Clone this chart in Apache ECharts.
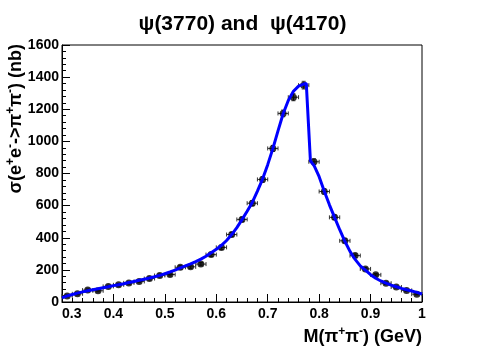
<!DOCTYPE html>
<html>
<head>
<meta charset="utf-8">
<script src="https://cdn.jsdelivr.net/npm/echarts@6/dist/echarts.min.js"></script>
<style>
  html, body { margin: 0; padding: 0; background: #fff; }
  #chart { width: 485px; height: 350px; }
</style>
</head>
<body>
<div id="chart"></div>
<script>
// measured points, M(pi+pi-) in GeV
var pointX = [0.31, 0.33, 0.35, 0.37, 0.39, 0.41, 0.43, 0.45, 0.47, 0.49, 0.51, 0.53,
  0.55, 0.57, 0.59, 0.61, 0.63, 0.65, 0.67, 0.69, 0.71, 0.73, 0.75, 0.77, 0.79,
  0.81, 0.83, 0.85, 0.87, 0.89, 0.91, 0.93, 0.95, 0.97, 0.99];
var pointY = [38, 51, 74, 70, 97, 107, 119, 128, 146, 165, 171, 216,
  219, 236, 295, 340, 420, 514, 615, 763, 956, 1174, 1275, 1350, 873,
  688, 527, 381, 289, 206, 169, 117, 93, 72, 49];
var pointErr = [6, 6, 7, 7, 7, 8, 8, 8, 9, 9, 9, 10,
  10, 10, 11, 12, 13, 14, 16, 17, 19, 21, 22, 24, 18,
  16, 14, 12, 10, 9, 8, 7, 6, 6, 5];
var binHalf = 0.01;

// fit curve
var curveX = [0.30, 0.31, 0.32, 0.33, 0.34, 0.35, 0.36, 0.37, 0.38, 0.39, 0.40,
  0.41, 0.42, 0.43, 0.44, 0.45, 0.46, 0.47, 0.48, 0.49, 0.50,
  0.51, 0.52, 0.53, 0.54, 0.55, 0.56, 0.57, 0.58, 0.59, 0.60,
  0.61, 0.62, 0.63, 0.64, 0.65, 0.66, 0.67, 0.68, 0.69, 0.70,
  0.71, 0.72, 0.73, 0.74, 0.75, 0.76, 0.77, 0.775, 0.777, 0.778, 0.783, 0.786, 0.79,
  0.80, 0.81, 0.82, 0.83, 0.84, 0.85, 0.86, 0.87, 0.88, 0.89, 0.90,
  0.91, 0.92, 0.93, 0.94, 0.95, 0.96, 0.97, 0.98, 0.99, 1.00];
var curveY = [25, 38, 47, 55, 63, 70, 76, 82, 89, 95, 102,
  108, 114, 121, 128, 135, 142, 149, 157, 166, 176,
  187, 199, 212, 225, 238, 252, 267, 285, 306, 328,
  353, 383, 420, 463, 513, 565, 620, 690, 765, 855,
  955, 1065, 1172, 1255, 1312, 1344, 1357, 1361, 1362, 1350, 880, 866, 850,
  780, 690, 605, 527, 450, 378, 315, 265, 225, 198, 170,
  148, 131, 117, 105, 95, 85, 76, 68, 60, 50];

var chart = echarts.init(document.getElementById('chart'));

var curveData = curveX.map(function (x, i) { return [x, curveY[i]]; });
var pointData = pointX.map(function (x, i) { return [x, pointY[i], pointErr[i]]; });

function renderErr(params, api) {
  var x = api.value(0), y = api.value(1), e = api.value(2);
  var l = api.coord([x - binHalf, y]);
  var r = api.coord([x + binHalf, y]);
  var t = api.coord([x, y + e]);
  var b = api.coord([x, y - e]);
  var st = { stroke: '#333', lineWidth: 1 };
  return {
    type: 'group',
    children: [
      { type: 'line', shape: { x1: l[0], y1: l[1], x2: r[0], y2: r[1] }, style: st },
      { type: 'line', shape: { x1: l[0], y1: l[1] - 2, x2: l[0], y2: l[1] + 2 }, style: st },
      { type: 'line', shape: { x1: r[0], y1: r[1] - 2, x2: r[0], y2: r[1] + 2 }, style: st },
      { type: 'line', shape: { x1: t[0], y1: t[1], x2: b[0], y2: b[1] }, style: st },
      { type: 'line', shape: { x1: t[0] - 2, y1: t[1], x2: t[0] + 2, y2: t[1] }, style: st },
      { type: 'line', shape: { x1: b[0] - 2, y1: b[1], x2: b[0] + 2, y2: b[1] }, style: st }
    ]
  };
}

var font = 'Liberation Sans, Arial, sans-serif';
var richTitle = {
  a: { fontFamily: font, fontWeight: 'bold', fontSize: 18, fill: '#000', verticalAlign: 'bottom' },
  s: { fontFamily: font, fontWeight: 'bold', fontSize: 12, fill: '#000', verticalAlign: 'top', padding: [0, 0, 8, 0] }
};

chart.setOption({
  animation: false,
  grid: { left: 62, right: 63, top: 45, bottom: 48, show: true, borderColor: '#000', borderWidth: 1 },
  xAxis: {
    type: 'value', min: 0.3, max: 1, interval: 0.1,
    axisLine: { show: true, lineStyle: { color: '#000' } },
    axisTick: { inside: true, length: 8, lineStyle: { color: '#000' } },
    minorTick: { show: true, splitNumber: 5, length: 4, lineStyle: { color: '#000' } },
    splitLine: { show: false },
    axisLabel: {
      color: '#000', fontFamily: font, fontWeight: 'bold', fontSize: 14, margin: 5,
      alignMinLabel: 'left',
      formatter: function (v) { return v === 1 ? '1' : v.toFixed(1); }
    }
  },
  yAxis: {
    type: 'value', min: 0, max: 1600, interval: 200,
    axisLine: { show: true, lineStyle: { color: '#000' } },
    axisTick: { inside: true, length: 8, lineStyle: { color: '#000' } },
    minorTick: { show: true, splitNumber: 5, length: 4, lineStyle: { color: '#000' } },
    splitLine: { show: false },
    axisLabel: {
      color: '#000', fontFamily: font, fontWeight: 'bold', fontSize: 14, margin: 3,
      formatter: function (v) { return String(v); }
    }
  },
  graphic: [
    {
      type: 'text', left: 'center', top: 14,
      style: { text: 'ψ(3770) and  ψ(4170)', font: 'bold 21px Liberation Sans, Arial, sans-serif', fill: '#000' }
    },
    {
      type: 'text', x: 5, y: 44, rotation: Math.PI / 2,
      style: {
        text: '{a|σ(e}{s|+}{a|e}{s|-}{a|->π}{s|+}{a|π}{s|-}{a|) (nb)}',
        align: 'right', verticalAlign: 'top',
        rich: richTitle
      }
    },
    {
      type: 'text', right: 63, top: 326,
      style: {
        text: '{a|M(π}{s|+}{a|π}{s|-}{a|) (GeV)}',
        rich: richTitle
      }
    }
  ],
  series: [
    {
      type: 'custom', renderItem: renderErr, data: pointData, z: 2,
      encode: { x: 0, y: 1 }
    },
    {
      type: 'scatter', data: pointData, symbol: 'circle', symbolSize: 7,
      itemStyle: { color: '#000' }, z: 3
    },
    {
      type: 'line', data: curveData, showSymbol: false, smooth: false,
      lineStyle: { color: '#0000ff', width: 3 }, z: 4
    }
  ]
});
</script>
</body>
</html>
